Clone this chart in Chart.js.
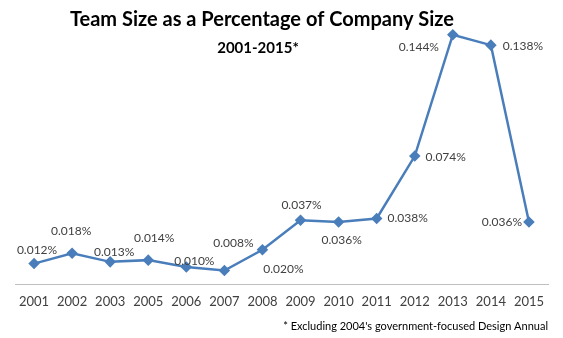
<!DOCTYPE html>
<html>
<head>
<meta charset="utf-8">
<script src="https://cdn.jsdelivr.net/npm/chart.js@4"></script>
<style>
  html, body { margin: 0; padding: 0; background: #fff; }
  #wrap { width: 563px; height: 338px; position: relative; }
</style>
</head>
<body>
<div id="wrap"><canvas id="teamChart"></canvas></div>
<script>
// data
const years = ['2001','2002','2003','2005','2006','2007','2008','2009','2010','2011','2012','2013','2014','2015'];
const teamPct = [0.012, 0.018, 0.013, 0.014, 0.010, 0.008, 0.020, 0.037, 0.036, 0.038, 0.074, 0.144, 0.138, 0.036];

// where each value label sits relative to its point [dx, dy]
const labelOffsets = [
  [3,-13], [-1,-22], [4,-10], [6,-22], [8,-6], [9,-27], [21,19],
  [1,-15], [3,18], [31,0], [31,1], [-34,12], [32,1], [-27,0]
];

const blue = '#4a7ebb';
const textGrey = '#404040';

Chart.defaults.font.family = 'Lato';

// value labels next to each point
const valueLabels = {
  id: 'valueLabels',
  afterDatasetsDraw(chart) {
    const ctx = chart.ctx;
    const meta = chart.getDatasetMeta(0);
    ctx.save();
    ctx.font = '12px Lato';
    ctx.fillStyle = textGrey;
    ctx.textAlign = 'center';
    ctx.textBaseline = 'middle';
    meta.data.forEach((pt, i) => {
      const off = labelOffsets[i];
      ctx.fillText(teamPct[i].toFixed(3) + '%', pt.x + off[0], pt.y + off[1]);
    });
    ctx.restore();
  }
};

// title, subtitle and footnote
const headings = {
  id: 'headings',
  afterDraw(chart) {
    const ctx = chart.ctx;
    ctx.save();
    ctx.fillStyle = '#000';
    ctx.textAlign = 'center';
    ctx.textBaseline = 'middle';
    ctx.font = 'bold 20px Lato';
    ctx.fillText('Team Size as a Percentage of Company Size', 262, 20);
    ctx.font = 'bold 15px Lato';
    ctx.fillText('2001-2015*', 258, 48);
    ctx.font = '11px Lato';
    ctx.textAlign = 'right';
    ctx.fillText("* Excluding 2004's government-focused Design Annual", 548, 326);
    ctx.restore();
  }
};

new Chart(document.getElementById('teamChart'), {
  type: 'line',
  data: {
    labels: years,
    datasets: [{
      data: teamPct,
      borderColor: blue,
      backgroundColor: blue,
      borderWidth: 2.5,
      pointStyle: 'rectRot',
      pointRadius: 4,
      pointHoverRadius: 4,
      tension: 0
    }]
  },
  options: {
    responsive: true,
    maintainAspectRatio: false,
    animation: false,
    layout: { padding: { left: 15, right: 15, top: 7, bottom: 18 } },
    plugins: {
      legend: { display: false },
      tooltip: { enabled: false }
    },
    scales: {
      x: {
        offset: true,
        grid: { display: false, drawTicks: false },
        border: { display: true, color: '#bfbfbf', width: 1 },
        ticks: { color: textGrey, font: { size: 13 }, padding: 10, maxRotation: 0 }
      },
      y: {
        display: false,
        min: 0,
        max: 0.16
      }
    }
  },
  plugins: [valueLabels, headings]
});
</script>
</body>
</html>
